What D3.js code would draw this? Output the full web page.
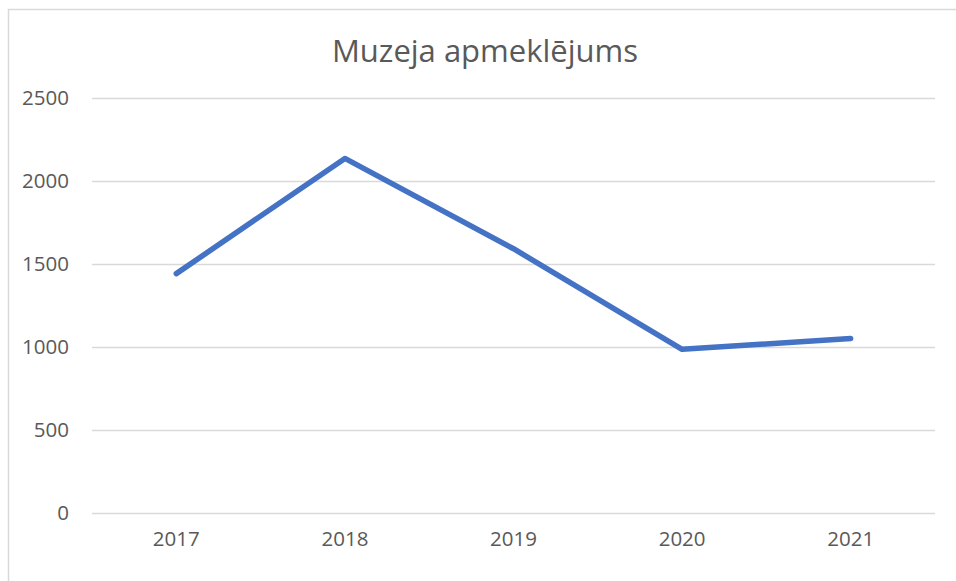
<!DOCTYPE html>
<html>
<head>
<meta charset="utf-8">
<script src="https://cdn.jsdelivr.net/npm/d3@7"></script>
<style>
  body { margin: 0; background: #fff; }
  svg text { font-family: "Open Sans", "Noto Sans", sans-serif; fill: #595959; }
</style>
</head>
<body>
<div id="chart"></div>
<script>
// data
var years = ["2017", "2018", "2019", "2020", "2021"];
var visits = [1442, 2136, 1592, 986, 1051];
var yTicks = [0, 500, 1000, 1500, 2000, 2500];
var title = "Muzeja apmeklējums";

var width = 956, height = 581;
var margin = {left: 92, right: 21, top: 98, bottom: 68};

var svg = d3.select("#chart").append("svg")
    .attr("width", width)
    .attr("height", height);

// chart frame (runs off the right and bottom edge)
svg.append("rect")
    .attr("x", 8.5).attr("y", 9.5)
    .attr("width", 960).attr("height", 600)
    .attr("fill", "none")
    .attr("stroke", "#d9d9d9")
    .attr("stroke-width", 1.5);

var x = d3.scaleBand()
    .domain(years)
    .range([margin.left, width - margin.right]);

var y = d3.scaleLinear()
    .domain([0, 2500])
    .range([height - margin.bottom, margin.top]);

// gridlines
svg.append("g")
    .selectAll("line")
    .data(yTicks)
    .enter()
    .append("line")
    .attr("x1", margin.left)
    .attr("x2", width - margin.right)
    .attr("y1", function (d) { return Math.round(y(d)) + 0.5; })
    .attr("y2", function (d) { return Math.round(y(d)) + 0.5; })
    .attr("stroke", "#d9d9d9")
    .attr("stroke-width", 1.3);

// y labels
var yAxis = d3.axisLeft(y)
    .tickValues(yTicks)
    .tickFormat(d3.format("d"))
    .tickSize(0)
    .tickPadding(23);
svg.append("g")
    .attr("transform", "translate(" + margin.left + ",0)")
    .call(yAxis)
    .call(function (g) { g.select(".domain").remove(); })
    .selectAll("text")
    .style("font-size", "20.5px")
    .attr("fill", "#595959");

// x labels
var xAxis = d3.axisBottom(x).tickSize(0).tickPadding(18);
svg.append("g")
    .attr("transform", "translate(0," + (height - margin.bottom) + ")")
    .call(xAxis)
    .call(function (g) { g.select(".domain").remove(); })
    .selectAll("text")
    .style("font-size", "20.5px")
    .attr("fill", "#595959");

// the line
var line = d3.line()
    .x(function (d, i) { return x(years[i]) + x.bandwidth() / 2; })
    .y(function (d) { return y(d); });

svg.append("path")
    .datum(visits)
    .attr("d", line)
    .attr("fill", "none")
    .attr("stroke", "#4472c4")
    .attr("stroke-width", 5.5)
    .attr("stroke-linecap", "round")
    .attr("stroke-linejoin", "round");

// title
svg.append("text")
    .attr("x", 485)
    .attr("y", 62)
    .attr("text-anchor", "middle")
    .style("font-size", "31px")
    .text(title);
</script>
</body>
</html>
